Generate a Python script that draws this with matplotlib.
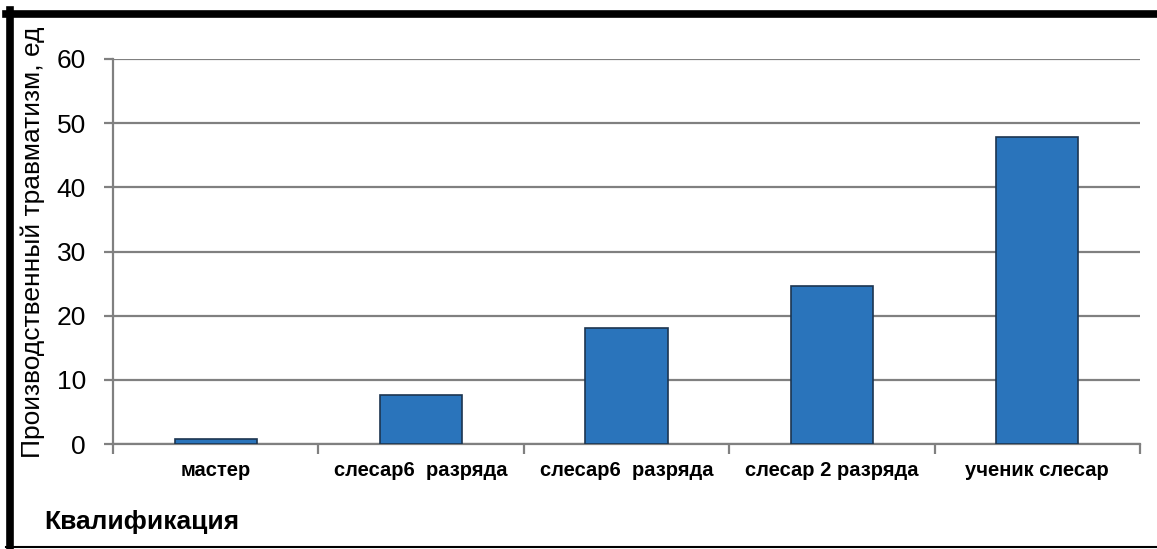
import matplotlib.pyplot as plt
import numpy as np
from matplotlib.lines import Line2D

plt.rcParams['font.family'] = ['Liberation Sans', 'DejaVu Sans']

categories = ['мастер', 'слесар6  разряда', 'слесар6  разряда', 'слесар 2 разряда', 'ученик слесар']
values = [0.8, 7.6, 18.1, 24.7, 47.8]
y_ticks = [0, 10, 20, 30, 40, 50, 60]

W, H = 1157, 549
fig = plt.figure(figsize=(W / 100, H / 100), dpi=100)
ax = fig.add_axes([113 / W, 1 - 444 / H, (1140 - 113) / W, (444 - 59) / H])

x = np.arange(len(categories))
ax.bar(x, values, width=0.4, color='#2a74bb', edgecolor='#1c3550', linewidth=1.2, zorder=3)

ax.set_xlim(-0.5, len(categories) - 0.5)
ax.set_ylim(0, 60)
ax.set_yticks(y_ticks)
ax.set_yticklabels([str(v) for v in y_ticks], fontsize=19)
ax.yaxis.grid(True, color='#808080', linewidth=1.6, zorder=0)
ax.tick_params(axis='y', length=6.5, width=1.6, color='#808080', pad=13)

# category ticks sit on the boundaries, labels in between
ax.set_xticks(np.arange(len(categories) + 1) - 0.5)
ax.set_xticklabels([])
ax.set_xticks(x, minor=True)
ax.set_xticklabels(categories, minor=True, fontsize=14.5, fontweight='bold')
ax.tick_params(axis='x', which='major', length=7.5, width=1.6, color='#808080')
ax.tick_params(axis='x', which='minor', length=0, pad=12)

for s in ['top', 'right']:
    ax.spines[s].set_visible(False)
for s in ['left', 'bottom']:
    ax.spines[s].set_color('#808080')
    ax.spines[s].set_linewidth(1.6)

fig.text(33 / W, 1 - 242 / H, 'Производственный травматизм, ед', rotation=90,
         ha='center', va='center', fontsize=19)
fig.text(44 / W, 1 - 522 / H, 'Квалификация', ha='left', va='center',
         fontsize=19, fontweight='bold')

# black frame around the picture
fig.add_artist(Line2D([6 / W, 1], [1 - 13.5 / H, 1 - 13.5 / H], color='black', linewidth=5.5))
fig.add_artist(Line2D([10 / W, 10 / W], [0, 1 - 10 / H], color='black', linewidth=5.5))
fig.add_artist(Line2D([6 / W, 1], [1 - 547 / H, 1 - 547 / H], color='black', linewidth=1.5))

fig.savefig('out.png', dpi=100)
